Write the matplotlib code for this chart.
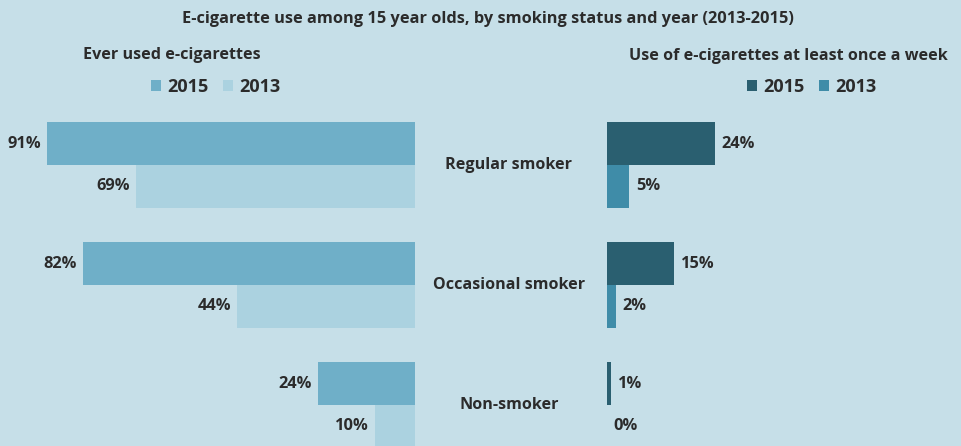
import matplotlib.pyplot as plt
from matplotlib.patches import Patch
from matplotlib.transforms import blended_transform_factory

plt.rcParams['font.family'] = ['Open Sans', 'DejaVu Sans']
plt.rcParams['font.weight'] = 'bold'

# data
categories = ['Regular smoker', 'Occasional smoker', 'Non-smoker']
ever_2015 = [91, 82, 24]
ever_2013 = [69, 44, 10]
week_2015 = [24, 15, 1]
week_2013 = [5, 2, 0]
years = ['2015', '2013']

bg = '#c6dfe8'
txt = '#2b2b2b'
c_ever = ['#6fafc8', '#abd2e0']
c_week = ['#2a5f70', '#3f8ca8']

fig = plt.figure(figsize=(9.62, 4.46), dpi=100, facecolor=bg)

W, H = 962, 446
axl = fig.add_axes([0, 0, 415 / W, 1])
axr = fig.add_axes([607 / W, 0, 1 - 607 / W, 1])

ylim = ((H - 165) / 120, -165 / 120)
bh = 43 / 120
idx = range(len(categories))

for ax in (axl, axr):
    ax.set_facecolor('none')
    ax.set_ylim(*ylim)
    ax.axis('off')

axl.set_xlim(415 / 4.044, 0)
axr.set_xlim(0, 355 / 4.5)

axl.barh([i - bh / 2 for i in idx], ever_2015, height=bh, color=c_ever[0])
axl.barh([i + bh / 2 for i in idx], ever_2013, height=bh, color=c_ever[1])
axr.barh([i - bh / 2 for i in idx], week_2015, height=bh, color=c_week[0])
axr.barh([i + bh / 2 for i in idx], week_2013, height=bh, color=c_week[1])

fs = 11.8
for i in idx:
    for v, off in ((ever_2015[i], -bh / 2), (ever_2013[i], bh / 2)):
        axl.annotate(f'{v}%', (v, i + off), xytext=(-4.5, 0), textcoords='offset points',
                     ha='right', va='center', fontsize=fs, color=txt, annotation_clip=False)
    for v, off in ((week_2015[i], -bh / 2), (week_2013[i], bh / 2)):
        axr.annotate(f'{v}%', (v, i + off), xytext=(4.5, 0), textcoords='offset points',
                     ha='left', va='center', fontsize=fs, color=txt, annotation_clip=False)

tr = blended_transform_factory(fig.transFigure, axl.transData)
for i, cat in enumerate(categories):
    fig.text(509 / W, i, cat, transform=tr, ha='center', va='center',
             fontsize=11.6, color=txt)

fig.text(488 / W, 1 - 19 / H, 'E-cigarette use among 15 year olds, by smoking status and year (2013-2015)',
         ha='center', va='center', fontsize=11.8, color=txt)
fig.text(83 / W, 1 - 55 / H, 'Ever used e-cigarettes', ha='left', va='center',
         fontsize=11.6, color=txt)
fig.text(948 / W, 1 - 56 / H, 'Use of e-cigarettes at least once a week', ha='right',
         va='center', fontsize=11.6, color=txt)

for ax, cols, cx in ((axl, c_ever, 216), (axr, c_week, 812)):
    handles = [Patch(facecolor=c, label=y) for c, y in zip(cols, years)]
    leg = fig.legend(handles=handles, loc='center', bbox_to_anchor=(cx / W, 1 - 87 / H),
                     ncol=2, frameon=False, handlelength=0.55, handleheight=0.55,
                     handletextpad=0.35, columnspacing=0.8, fontsize=13,
                     labelcolor=txt)

fig.savefig('out.png', dpi=100, facecolor=bg)
